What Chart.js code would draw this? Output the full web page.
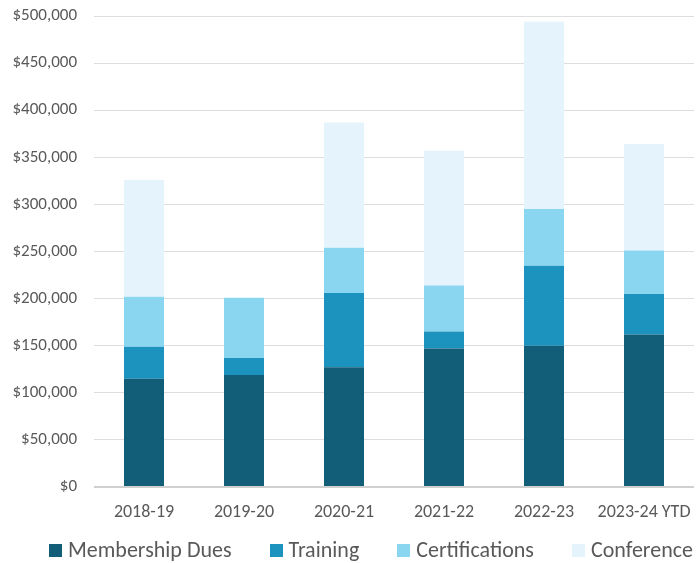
<!DOCTYPE html>
<html lang="en">
<head>
    <meta charset="UTF-8">
    <title>Revenue by Source</title>
    <script src="https://cdn.jsdelivr.net/npm/chart.js"></script>
    <style>
        body {
            margin: 0;
            background: #ffffff;
            font-family: Calibri, Carlito, Lato, sans-serif;
        }

        #wrap {
            position: relative;
            width: 696px;
            height: 563px;
        }

        #legend {
            position: absolute;
            left: 46px;
            right: 0;
            top: 537px;
            display: flex;
            justify-content: center;
            gap: 38px;
            color: #595959;
            font-size: 22px;
            line-height: 26px;
            white-space: nowrap;
        }

        #legend .item {
            display: flex;
            align-items: center;
        }

        #legend .box {
            width: 13px;
            height: 13px;
            margin-right: 6px;
        }
    </style>
</head>
<body>
    <div id="wrap">
        <canvas id="revChart" width="696" height="563"></canvas>
        <div id="legend"></div>
    </div>

    <script>
        // Data
        const years = ['2018-19', '2019-20', '2020-21', '2021-22', '2022-23', '2023-24 YTD'];
        const membershipDues = [115000, 119000, 127000, 147000, 150000, 162000];
        const training = [34000, 18000, 79000, 18000, 85000, 43000];
        const certifications = [53000, 64000, 48000, 49000, 60000, 46000];
        const conference = [124000, 0, 133000, 143000, 199000, 113000];

        const seriesNames = ['Membership Dues', 'Training', 'Certifications', 'Conference'];
        const seriesColors = ['#125E78', '#1C93BE', '#8AD5EF', '#E5F4FC'];
        const seriesValues = [membershipDues, training, certifications, conference];

        const textColor = '#595959';
        const fontFamily = 'Calibri, Carlito, Lato, sans-serif';

        const datasets = seriesNames.map((name, i) => ({
            label: name,
            data: seriesValues[i],
            backgroundColor: seriesColors[i],
            borderWidth: 0,
            barPercentage: 0.4,
            categoryPercentage: 1.0
        }));

        const chart = new Chart(document.getElementById('revChart'), {
            type: 'bar',
            data: { labels: years, datasets: datasets },
            options: {
                responsive: false,
                animation: false,
                layout: { padding: { top: 16, right: 2, bottom: 0, left: 0 } },
                plugins: {
                    legend: { display: false },
                    tooltip: { enabled: false }
                },
                scales: {
                    x: {
                        stacked: true,
                        grid: { display: false, drawTicks: false },
                        border: { display: false },
                        ticks: {
                            color: textColor,
                            padding: 15,
                            font: { family: fontFamily, size: 18 }
                        },
                        afterFit: function(axis) {
                            axis.height = 76;
                            axis.paddingLeft = 0;
                            axis.paddingRight = 0;
                        }
                    },
                    y: {
                        stacked: true,
                        min: 0,
                        max: 500000,
                        grid: {
                            drawTicks: false,
                            color: ctx => ctx.tick && ctx.tick.value === 0 ? '#d0d0d0' : '#dedede',
                            lineWidth: ctx => ctx.tick && ctx.tick.value === 0 ? 2 : 1
                        },
                        border: { display: false },
                        ticks: {
                            stepSize: 50000,
                            color: textColor,
                            padding: 17,
                            font: { family: fontFamily, size: 17 },
                            callback: v => '$' + v.toLocaleString('en-US')
                        },
                        afterFit: function(axis) {
                            axis.width = 94;
                            axis.paddingTop = 0;
                            axis.paddingBottom = 0;
                        }
                    }
                }
            }
        });

        // Legend built from the same series
        const legend = document.getElementById('legend');
        seriesNames.forEach((name, i) => {
            const item = document.createElement('div');
            item.className = 'item';
            item.innerHTML = '<span class="box" style="background:' + seriesColors[i] + '"></span><span>' + name + '</span>';
            legend.appendChild(item);
        });
    </script>
</body>
</html>
